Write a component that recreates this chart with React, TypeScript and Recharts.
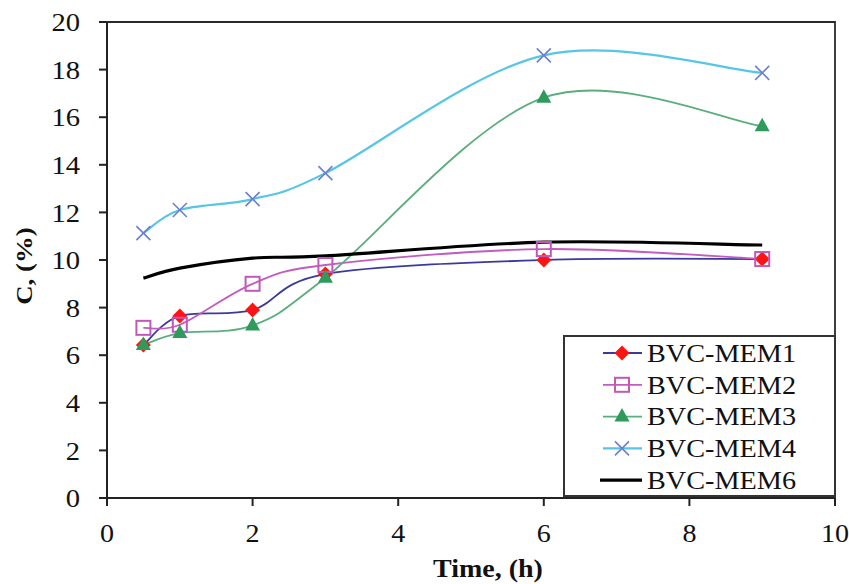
import React from 'react';
import { LineChart, Line, XAxis, YAxis, ReferenceArea, Legend, Label } from 'recharts';

const times = [0.5, 1, 2, 3, 6, 9];
const mem1 = [6.43, 7.65, 7.9, 9.41, 10.0, 10.04];
const mem2 = [7.15, 7.28, 9.0, 9.79, 10.46, 10.04];
const mem3 = [6.43, 6.93, 7.25, 9.25, 16.82, 15.62];
const mem4 = [11.13, 12.1, 12.56, 13.65, 18.6, 17.86];
const mem6 = [9.24, 9.66, 10.08, 10.17, 10.75, 10.63];
const xTicks = [0, 2, 4, 6, 8, 10];
const yTicks = [0, 2, 4, 6, 8, 10, 12, 14, 16, 18, 20];
const seriesNames = ['BVC-MEM1', 'BVC-MEM2', 'BVC-MEM3', 'BVC-MEM4', 'BVC-MEM6'];
const xLabel = 'Time, (h)';
const yLabel = 'C, (%)';

const data = times.map((t, i) => ({
  t,
  m1: mem1[i],
  m2: mem2[i],
  m3: mem3[i],
  m4: mem4[i],
  m6: mem6[i],
}));

const FONT = '"Liberation Serif", "Times New Roman", serif';

type Shape = 'diamond' | 'square' | 'triangle' | 'x' | 'none';
const series: { key: string; name: string; line: string; marker: string; shape: Shape; width: number }[] = [
  { key: 'm1', name: seriesNames[0], line: '#3a3a9c', marker: '#ff1414', shape: 'diamond', width: 1.8 },
  { key: 'm2', name: seriesNames[1], line: '#c25cc0', marker: '#c258b8', shape: 'square', width: 1.8 },
  { key: 'm3', name: seriesNames[2], line: '#5aae7e', marker: '#2e9a5c', shape: 'triangle', width: 1.8 },
  { key: 'm4', name: seriesNames[3], line: '#56c6e4', marker: '#6a7fd0', shape: 'x', width: 2.2 },
  { key: 'm6', name: seriesNames[4], line: '#000000', marker: '#000000', shape: 'none', width: 3.2 },
];

// Excel-like smoothed line (uniform Catmull-Rom as cubic Bezier)
function smoothCurve(context: any) {
  let pts: number[][] = [];
  return {
    areaStart() {},
    areaEnd() {},
    lineStart() {
      pts = [];
    },
    point(x: number, y: number) {
      pts.push([+x, +y]);
    },
    lineEnd() {
      const n = pts.length;
      if (n === 0) return;
      context.moveTo(pts[0][0], pts[0][1]);
      if (n === 1) return;
      for (let i = 0; i < n - 1; i++) {
        const p0 = pts[i - 1] || pts[i];
        const p1 = pts[i];
        const p2 = pts[i + 1];
        const p3 = pts[i + 2] || p2;
        const c1x = p1[0] + (p2[0] - p0[0]) / 6;
        const c1y = p1[1] + (p2[1] - p0[1]) / 6;
        const c2x = p2[0] - (p3[0] - p1[0]) / 6;
        const c2y = p2[1] - (p3[1] - p1[1]) / 6;
        context.bezierCurveTo(c1x, c1y, c2x, c2y, p2[0], p2[1]);
      }
    },
  };
}

function Marker({ shape, cx, cy, color }: { shape: Shape; cx: number; cy: number; color: string }) {
  switch (shape) {
    case 'diamond':
      return (
        <polygon
          points={`${cx},${cy - 7.5} ${cx + 7.5},${cy} ${cx},${cy + 7.5} ${cx - 7.5},${cy}`}
          fill={color}
        />
      );
    case 'square':
      return <rect x={cx - 7} y={cy - 7} width={14} height={14} fill="none" stroke={color} strokeWidth={2} />;
    case 'triangle':
      return <polygon points={`${cx},${cy - 8.5} ${cx + 7.5},${cy + 5} ${cx - 7.5},${cy + 5}`} fill={color} />;
    case 'x':
      return (
        <g stroke={color} strokeWidth={1.6}>
          <line x1={cx - 7} y1={cy - 7} x2={cx + 7} y2={cy + 7} />
          <line x1={cx - 7} y1={cy + 7} x2={cx + 7} y2={cy - 7} />
        </g>
      );
    default:
      return null;
  }
}

const YTick = (props: any) => {
  const { x, y, payload } = props;
  return (
    <g transform={`translate(${x},${y}) scale(1.1,1)`}>
      <text x={0} y={0} dy="0.35em" textAnchor="end" fontFamily={FONT} fontSize={26} fill="#111">
        {payload.value}
      </text>
    </g>
  );
};

const XTick = (props: any) => {
  const { x, payload } = props;
  return (
    <g transform={`translate(${x},542) scale(1.08,1)`}>
      <text x={0} y={0} textAnchor="middle" fontFamily={FONT} fontSize={26} fill="#111">
        {payload.value}
      </text>
    </g>
  );
};

const renderXLabel = () => (
  <g transform="translate(488,577) scale(1.12,1)">
    <text x={0} y={0} textAnchor="middle" fontFamily={FONT} fontSize={25} fontWeight="bold" fill="#111">
      {xLabel}
    </text>
  </g>
);

const renderYLabel = () => (
  <g transform="translate(24,266) rotate(-90) scale(1.12,1)">
    <text x={0} y={0} dy="0.35em" textAnchor="middle" fontFamily={FONT} fontSize={24} fontWeight="bold" fill="#111">
      {yLabel}
    </text>
  </g>
);

const LegendBox = () => {
  const w = 273;
  const h = 162;
  return (
    <svg width={w} height={h} style={{ display: 'block' }}>
      <rect x={1} y={1} width={w - 2} height={h - 2} fill="#fff" stroke="#333" strokeWidth={2} />
      {series.map((s, i) => {
        const cy = 18 + i * 31.8;
        return (
          <g key={s.key}>
            <line
              x1={s.shape === 'none' ? 37 : 40}
              x2={79}
              y1={cy}
              y2={cy}
              stroke={s.line}
              strokeWidth={s.width}
            />
            <Marker shape={s.shape} cx={59} cy={cy} color={s.marker} />
            <g transform={`translate(84,${cy}) scale(1.13,1)`}>
              <text x={0} y={0} dy="0.35em" fontFamily={FONT} fontSize={25} fill="#111">
                {s.name}
              </text>
            </g>
          </g>
        );
      })}
    </svg>
  );
};

export default function App() {
  return (
    <div style={{ position: 'absolute', left: 0, top: 0, width: 849, height: 584, background: '#fff' }}>
      <LineChart
        width={849}
        height={584}
        data={data}
        margin={{ top: 22, right: 14, left: 0, bottom: 0 }}
      >
        <ReferenceArea x1={0} x2={10} y1={0} y2={20} fill="none" stroke="#2a2a2a" strokeWidth={1.8} ifOverflow="visible" />
        <XAxis
          dataKey="t"
          type="number"
          domain={[0, 10]}
          ticks={xTicks}
          height={86}
          tickSize={8}
          tickMargin={0}
          axisLine={{ stroke: '#222', strokeWidth: 2 }}
          tickLine={{ stroke: '#222', strokeWidth: 2 }}
          tick={<XTick />}
          interval={0}
          allowDataOverflow
        >
          <Label content={renderXLabel} />
        </XAxis>
        <YAxis
          type="number"
          domain={[0, 20]}
          ticks={yTicks}
          width={107}
          tickSize={8}
          tickMargin={19}
          axisLine={{ stroke: '#222', strokeWidth: 2 }}
          tickLine={{ stroke: '#222', strokeWidth: 2 }}
          tick={<YTick />}
          interval={0}
          allowDataOverflow
        >
          <Label content={renderYLabel} />
        </YAxis>
        {series.map((s) => (
          <Line
            key={s.key}
            dataKey={s.key}
            name={s.name}
            type={smoothCurve as any}
            stroke={s.line}
            strokeWidth={s.width}
            isAnimationActive={false}
            activeDot={false}
            dot={(p: any) => (
              <g key={`${s.key}-${p.index}`}>
                <Marker shape={s.shape} cx={p.cx} cy={p.cy} color={s.marker} />
              </g>
            )}
          />
        ))}
        <Legend
          layout="vertical"
          align="center"
          verticalAlign="middle"
          content={() => <LegendBox />}
          wrapperStyle={{ left: 563, top: 335, width: 273, height: 162, bottom: 'auto', right: 'auto' }}
        />
      </LineChart>
    </div>
  );
}
